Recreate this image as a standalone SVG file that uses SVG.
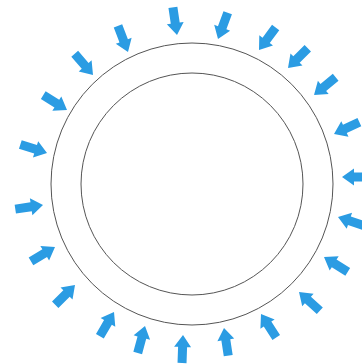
<svg xmlns="http://www.w3.org/2000/svg" xmlns:xlink="http://www.w3.org/1999/xlink" width="362" height="364" viewBox="0 0 362 364">
<style>
.ring{fill:none;stroke:#555;stroke-width:1}
.arr{fill:#2b9ce3}
</style>
<defs>
<path id="a" class="arr" d="M0,0 L-12,-8.5 L-12,-4.5 L-28,-4.5 L-28,4.5 L-12,4.5 L-12,8.5 Z"/>
</defs>
<rect width="362" height="364" fill="#fff"/>
<g id="outer-circle"><circle class="ring" cx="192" cy="184" r="141"/></g>
<g id="inner-circle"><circle class="ring" cx="192" cy="184" r="111"/></g>
<g id="arrows">
<use xlink:href="#a" transform="translate(47,153) rotate(17.8)"/>
<use xlink:href="#a" transform="translate(43,205) rotate(-8.4)"/>
<use xlink:href="#a" transform="translate(55,247) rotate(-31)"/>
<use xlink:href="#a" transform="translate(75,285) rotate(-45)"/>
<use xlink:href="#a" transform="translate(114,312) rotate(-59.7)"/>
<use xlink:href="#a" transform="translate(145,326) rotate(-74.9)"/>
<use xlink:href="#a" transform="translate(183,335) rotate(-88)"/>
<use xlink:href="#a" transform="translate(224,328) rotate(-98.7)"/>
<use xlink:href="#a" transform="translate(261,314) rotate(-123)"/>
<use xlink:href="#a" transform="translate(299,292) rotate(-138)"/>
<use xlink:href="#a" transform="translate(324,257) rotate(-148)"/>
<use xlink:href="#a" transform="translate(338,217) rotate(-161.6)"/>
<use xlink:href="#a" transform="translate(342,177) rotate(180)"/>
<use xlink:href="#a" transform="translate(334,134) rotate(155)"/>
<use xlink:href="#a" transform="translate(314,95) rotate(140.7)"/>
<use xlink:href="#a" transform="translate(288,68) rotate(135)"/>
<use xlink:href="#a" transform="translate(259,50) rotate(126.5)"/>
<use xlink:href="#a" transform="translate(218,39) rotate(110.3)"/>
<use xlink:href="#a" transform="translate(177,35) rotate(81.6)"/>
<use xlink:href="#a" transform="translate(128,52) rotate(69)"/>
<use xlink:href="#a" transform="translate(93,75) rotate(49.2)"/>
<use xlink:href="#a" transform="translate(67,110) rotate(32)"/>
</g>
</svg>
